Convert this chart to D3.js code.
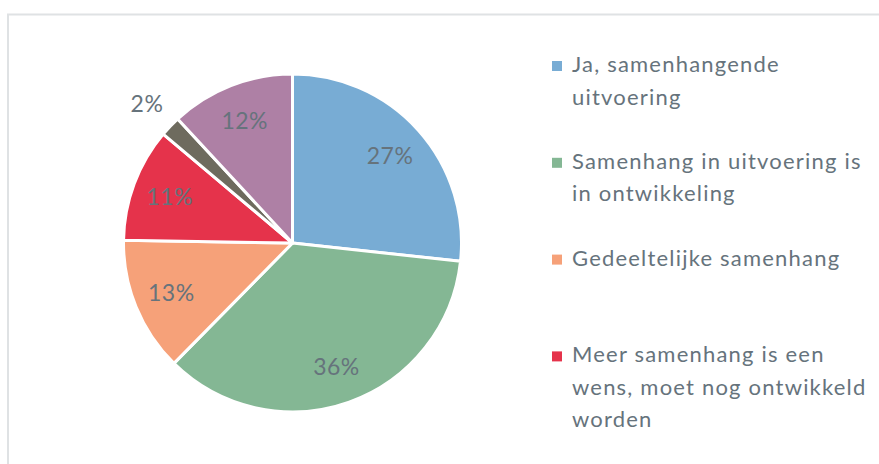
<!DOCTYPE html>
<html>
<head>
<meta charset="utf-8">
<script src="https://cdn.jsdelivr.net/npm/d3@7"></script>
<style>
  body { margin: 0; background: #fff; }
  svg text { font-family: Lato, "Open Sans", sans-serif; fill: #66737c; }
</style>
</head>
<body>
<div id="chart"></div>
<script>
// percentages per slice, clockwise from 12 o'clock
var values = [27, 36, 13, 11, 2, 12];
var colors = ["#78acd4", "#84b794", "#f6a179", "#e5334b", "#6e6b5e", "#ae80a5"];
// legend (only the first four entries are visible in the chart)
var legendLabels = [
  "Ja, samenhangende\nuitvoering",
  "Samenhang in uitvoering is\nin ontwikkeling",
  "Gedeeltelijke samenhang",
  "Meer samenhang is een\nwens, moet nog ontwikkeld\nworden"
];

var width = 879, height = 464;
var svg = d3.select("#chart").append("svg")
    .attr("width", width)
    .attr("height", height);

// chart frame
svg.append("rect")
    .attr("x", 8)
    .attr("y", 14.5)
    .attr("width", 900)
    .attr("height", 500)
    .attr("fill", "none")
    .attr("stroke", "#dfe2e4")
    .attr("stroke-width", 2);

var cx = 292.5, cy = 243, r = 169;

var pie = d3.pie().sort(null).value(d => d);
var arcs = pie(values);
var arc = d3.arc().innerRadius(0).outerRadius(r);

var g = svg.append("g").attr("transform", `translate(${cx},${cy})`);

g.selectAll("path")
  .data(arcs)
  .enter()
  .append("path")
  .attr("d", arc)
  .attr("fill", (d, i) => colors[i])
  .attr("stroke", "#fff")
  .attr("stroke-width", 3)
  .attr("stroke-linejoin", "round");

// data labels, small slices get theirs outside the pie
g.selectAll("text.lbl")
  .data(arcs)
  .enter()
  .append("text")
  .attr("class", "lbl")
  .attr("transform", d => {
    var a = (d.startAngle + d.endAngle) / 2;
    var lr = d.data < 5 ? 1.19 * r : 0.775 * r;
    return `translate(${Math.sin(a) * lr},${-Math.cos(a) * lr})`;
  })
  .attr("dy", "0.36em")
  .style("text-anchor", "middle")
  .style("font-size", "23px")
  .style("letter-spacing", "0.5px")
  .text(d => d.data + "%");

// legend
var legend = svg.append("g").attr("transform", "translate(552,0)");
var entry = legend.selectAll("g")
  .data(legendLabels)
  .enter()
  .append("g")
  .attr("transform", (d, i) => `translate(0,${72 + i * 96.8})`);

entry.append("rect")
  .attr("x", 0)
  .attr("y", -11)
  .attr("width", 10)
  .attr("height", 10)
  .attr("fill", (d, i) => colors[i]);

entry.append("text")
  .attr("x", 20)
  .style("font-size", "22px")
  .style("letter-spacing", "1.2px")
  .selectAll("tspan")
  .data(d => d.split("\n"))
  .enter()
  .append("tspan")
  .attr("x", 20)
  .attr("y", (d, i) => i * 32.5)
  .text(d => d);
</script>
</body>
</html>
